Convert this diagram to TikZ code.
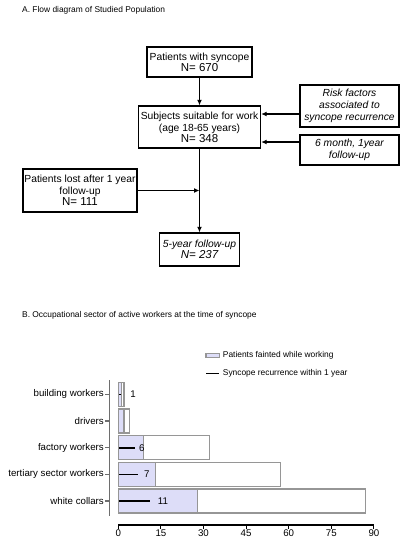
\documentclass[tikz,border=0pt]{standalone}
\usepackage{fontspec}
\setmainfont{Liberation Sans}
\usetikzlibrary{positioning,arrows.meta,calc}
\definecolor{barfill}{RGB}{221,221,248}
\definecolor{bargray}{RGB}{150,150,150}
\definecolor{axgray}{RGB}{110,110,110}
\newcommand{\nval}[1]{{\fontsize{11.5}{13}\selectfont N= #1}}
\newcommand{\sectorbar}[3]{%
  \draw[barw] (0,#1-12) rectangle (#2,#1+12);
  \draw[barp] (0,#1-12) rectangle (#3,#1+12);}

\begin{document}
\begin{tikzpicture}[x=1pt,y=-1pt,font=\fontsize{10.3}{12}\selectfont,
  box/.style={draw,line width=1.4pt,align=center,inner sep=0pt},
  ar/.style={-{Latex[length=5.5pt,width=5pt]},line width=1.4pt},
  ttl/.style={anchor=west,font=\fontsize{8.4}{10}\selectfont,inner sep=0pt},
  cat/.style={anchor=east,font=\fontsize{9.7}{11}\selectfont,inner sep=0pt},
  num/.style={font=\fontsize{9.7}{11}\selectfont,inner sep=0pt},
  barw/.style={draw=bargray,line width=1.1pt,fill=white},
  barp/.style={draw=bargray,line width=1.1pt,fill=barfill},
  rec/.style={line width=1.6pt}]
\useasboundingbox (0,0) rectangle (408,550);
% A. flow diagram
\node[ttl] (ttla) at (22,10) {A. Flow diagram of Studied Population};
\node[box,minimum width=105pt,minimum height=30pt] (pts) at (199.5,62) {Patients with syncope\\[-1pt]\nval{670}};
\node[box,minimum width=122pt,minimum height=42pt] (subj) at (199.5,127) {Subjects suitable for work\\(age 18-65 years)\\[-1pt]\nval{348}};
\node[box,minimum width=99pt,minimum height=42pt,font=\fontsize{10.3}{12}\selectfont\itshape] (risk) at (349.5,106) {Risk factors\\associated to\\syncope recurrence};
\node[box,minimum width=99pt,minimum height=30pt,font=\fontsize{10.3}{12}\selectfont\itshape] (fup) at (349.5,150) {6 month, 1year\\follow-up};
\node[box,minimum width=114pt,minimum height=43pt] (lost) at (80,190.5) {Patients lost after 1 year\\follow-up\\[-1pt]\nval{111}};
\node[box,minimum width=80pt,minimum height=33pt,font=\fontsize{10.3}{12}\selectfont\itshape] (five) at (199.5,249.5) {5-year follow-up\\[-1pt]\nval{237}};
\coordinate (join) at (lost.east -| subj.south);
\draw[ar] (pts.south) -- (subj.north);
\draw[ar] ([yshift=-8pt]risk.west) -- ([yshift=-8pt]risk.west -| subj.east);
\draw[ar] ([yshift=8pt]fup.west) -- ([yshift=8pt]fup.west -| subj.east);
\draw[ar] (subj.south) -- (five.north);
\draw[ar] (lost.east) -- (join);
% B. occupational sector
\node[ttl] (ttlb) at (22,315) {B. Occupational sector of active workers at the time of syncope};
\draw[barp] (206,353.3) rectangle (219.3,357.3);
\node[ttl] (legp) at (222.7,355.3) {Patients fainted while working};
\draw[rec] (206,373.3) -- (219.3,373.3);
\node[ttl] (legr) at (222.7,373.3) {Syncope recurrence within 1 year};
\draw[axgray,line width=1.4pt] (109.5,380) -- (109.5,516);
\node[cat] (bw) at (104,394.3) {building workers};
\node[cat] (dr) at (104,421) {drivers};
\node[cat] (fw) at (104,447.7) {factory workers};
\node[cat] (ts) at (104,474.3) {tertiary sector workers};
\node[cat] (wc) at (104,501) {white collars};
\draw[axgray,line width=1.1pt] (105,394.3) -- (109.5,394.3) (105,421) -- (109.5,421) (105,447.7) -- (109.5,447.7)
  (105,474.3) -- (109.5,474.3) (105,501) -- (109.5,501);
\begin{scope}[shift={(118.3,0)},x=2.84pt]
\sectorbar{394.3}{2}{1}
\sectorbar{421}{4}{2}
\sectorbar{447.7}{32}{9}
\sectorbar{474.3}{57}{13}
\sectorbar{501}{87}{28}
\draw[rec] (0.3,394.3) -- (1,394.3);
\draw[rec] (0.3,447.7) -- (6,447.7);
\draw[rec] (0.3,474.3) -- (7,474.3);
\draw[rec] (0.3,501) -- (11,501);
\node[num,anchor=west] (v1) at (4.2,394.3) {1};
\node[num,anchor=west] (v6) at (7.3,447.7) {6};
\node[num,anchor=west] (v7) at (9.05,474.3) {7};
\node[num,anchor=west] (v11) at (13.9,501) {11};
\draw[line width=1.1pt] (0,525) -- (90,525);
\foreach \v in {0,15,...,90}{
  \draw[line width=1.1pt] (\v,525) -- (\v,528.5);
  \node[num,anchor=north] (t\v) at (\v,530) {\v};}
\end{scope}
\end{tikzpicture}
\end{document}
